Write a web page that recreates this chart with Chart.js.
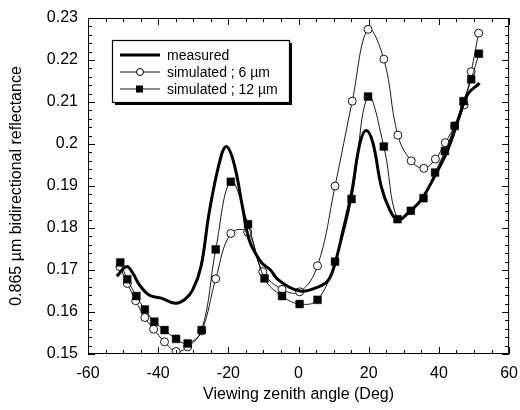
<!DOCTYPE html>
<html><head><meta charset="utf-8">
<script src="https://cdn.jsdelivr.net/npm/chart.js@4/dist/chart.umd.min.js"></script>
<style>html,body{margin:0;padding:0;background:#fff}canvas{display:block}</style>
</head><body>
<canvas id="c" width="520" height="410"></canvas>
<script>
// ---- data ----
const measuredAngle = [-51.8,-49.0,-47.2,-45.3,-42.5,-39.1,-35.1,-32.5,-30.2,-27.8,-25.5,-22.6,-20.6,-18.4,-16.0,-14.2,-12.3,-10.4,-8.0,-5.7,0.5,5.7,8.5,10.4,12.7,15.1,17.5,19.3,21.2,23.6,26.0,28.3,31.1,34.9,38.7,42.5,45.8,48.1,51.6];
const measuredRefl = [0.1685,0.1708,0.1692,0.1664,0.1640,0.1633,0.1621,0.1629,0.1652,0.1708,0.1835,0.1954,0.1994,0.1954,0.1851,0.1775,0.1740,0.1716,0.1700,0.1676,0.1650,0.1660,0.1676,0.1716,0.1795,0.1883,0.2002,0.2032,0.2002,0.1898,0.1843,0.1819,0.1835,0.1867,0.1922,0.1986,0.2065,0.2117,0.2145];

const sim6Angle = [-50.9,-48.8,-46.4,-43.8,-41.3,-38.2,-34.9,-31.6,-27.6,-23.6,-19.3,-14.5,-10.2,-4.7,0.3,5.4,10.4,15.3,19.8,24.3,28.3,32.1,35.7,39.0,41.8,44.5,47.2,49.2,51.3];
const sim6Refl  = [0.1708,0.1668,0.1627,0.1587,0.1559,0.1529,0.1506,0.1517,0.1555,0.1679,0.1787,0.1790,0.1696,0.1654,0.1648,0.1710,0.1900,0.2102,0.2273,0.2202,0.2021,0.1960,0.1942,0.1964,0.2003,0.2043,0.2093,0.2172,0.2264];

const sim12Angle = [-50.8,-48.8,-46.2,-43.8,-41.1,-38.2,-34.9,-31.6,-27.6,-23.6,-19.3,-14.4,-9.7,-4.7,0.3,5.4,10.4,15.1,19.8,24.3,28.2,32.0,35.6,38.9,41.7,44.5,47.0,49.2,51.4];
const sim12Refl  = [0.1718,0.1678,0.1638,0.1606,0.1577,0.1557,0.1536,0.1525,0.1557,0.1749,0.1910,0.1809,0.1680,0.1638,0.1619,0.1629,0.1720,0.1869,0.2113,0.1994,0.1821,0.1841,0.1871,0.1932,0.1983,0.2043,0.2102,0.2154,0.2215];

const xTickLabels = [-60,-40,-20,0,20,40,60];
const yTickLabels = [0.15,0.16,0.17,0.18,0.19,0.20,0.21,0.22,0.23];
const seriesNames = ['measured','simulated ; 6 \u00b5m','simulated ; 12 \u00b5m'];
const xMinorStep = 5, yMinorStep = 0.002;

const FONT = '"Liberation Sans", Arial, Helvetica, sans-serif';
const pts = (xs, ys) => xs.map((v,i)=>({x:v,y:ys[i]}));

const frameTicks = {
  id:'frameTicks',
  afterDatasetsDraw(chart){
    const {ctx, chartArea:a, scales:{x,y}} = chart;
    ctx.save();
    ctx.strokeStyle='#000'; ctx.lineWidth=1;
    ctx.strokeRect(a.left+0.5, a.top+0.5, a.right-a.left-1, a.bottom-a.top-1);
    ctx.beginPath();
    const xmin = xTickLabels[0], xmax = xTickLabels[xTickLabels.length-1];
    const nx = Math.round((xmax-xmin)/xMinorStep);
    for (let i=0;i<=nx;i++){
      const v = xmin + i*xMinorStep;
      const px = Math.round(x.getPixelForValue(v))+0.5;
      const L = (i%4===0)?7:4;
      ctx.moveTo(px,a.bottom); ctx.lineTo(px,a.bottom-L);
      ctx.moveTo(px,a.top); ctx.lineTo(px,a.top+L);
    }
    const ymin = yTickLabels[0], ymax = yTickLabels[yTickLabels.length-1];
    const ny = Math.round((ymax-ymin)/yMinorStep);
    for (let i=0;i<=ny;i++){
      const v = ymin + i*yMinorStep;
      const py = Math.round(y.getPixelForValue(v))+0.5;
      const L = (i%5===0)?7:4;
      ctx.moveTo(a.left,py); ctx.lineTo(a.left+L,py);
      ctx.moveTo(a.right,py); ctx.lineTo(a.right-L,py);
    }
    ctx.stroke();
    ctx.restore();
  }
};

const boxLegend = {
  id:'boxLegend',
  afterDraw(chart){
    const ctx = chart.ctx;
    const bx=112, by=40, bw=177, bh=62;
    ctx.save();
    ctx.fillStyle='#000';
    ctx.fillRect(bx+3, by+3, bw, bh);
    ctx.fillStyle='#fff';
    ctx.fillRect(bx, by, bw, bh);
    ctx.strokeStyle='#000'; ctx.lineWidth=1.2;
    ctx.strokeRect(bx+0.5, by+0.5, bw, bh);
    const rows=[55,72,89];
    ctx.font = '14px '+FONT;
    ctx.textBaseline='middle';
    chart.data.datasets.forEach((ds,i)=>{
      const yy = rows[i];
      ctx.strokeStyle='#000';
      ctx.lineWidth = ds.borderWidth;
      ctx.beginPath(); ctx.moveTo(120,yy); ctx.lineTo(160,yy); ctx.stroke();
      if (ds.pointRadius>0){
        ctx.lineWidth=1;
        if (ds.pointStyle==='rect'){
          ctx.fillStyle='#000'; ctx.fillRect(136,yy-3.5,7,7);
        } else {
          ctx.fillStyle='#fff'; ctx.beginPath(); ctx.arc(140,yy,3.5,0,Math.PI*2); ctx.fill(); ctx.stroke();
        }
      }
      ctx.fillStyle='#000';
      ctx.fillText(seriesNames[i], 167, yy+1);
    });
    ctx.restore();
  }
};

new Chart(document.getElementById('c'), {
  type:'scatter',
  data:{
    datasets:[
      {label:seriesNames[0], data:pts(measuredAngle,measuredRefl), showLine:true, borderColor:'#000', borderWidth:3, pointRadius:0, tension:0.4, order:1},
      {label:seriesNames[1], data:pts(sim6Angle,sim6Refl), showLine:true, borderColor:'#000', borderWidth:0.9, pointRadius:4, pointStyle:'circle', pointBackgroundColor:'#fff', pointBorderColor:'#000', pointBorderWidth:0.9, tension:0.4, order:3},
      {label:seriesNames[2], data:pts(sim12Angle,sim12Refl), showLine:true, borderColor:'#000', borderWidth:0.9, pointRadius:5.5, pointStyle:'rect', pointBackgroundColor:'#000', pointBorderColor:'#000', pointBorderWidth:0.5, tension:0.4, order:2}
    ]
  },
  options:{
    responsive:false, animation:false, devicePixelRatio:1,
    layout:{padding:{left:0,right:0,top:18,bottom:0}},
    plugins:{legend:{display:false}, tooltip:{enabled:false}},
    scales:{
      x:{type:'linear', min:-60, max:60,
         afterBuildTicks:s=>{s.ticks = xTickLabels.map(v=>({value:v}));},
         afterFit:s=>{s.height=56;},
         grid:{display:false}, border:{display:false},
         ticks:{color:'#000', font:{family:FONT,size:16}, padding:2, maxRotation:0, callback:v=>String(v)},
         title:{display:true, text:'Viewing zenith angle (Deg)', color:'#000', font:{family:FONT,size:16}, padding:{top:0,bottom:6}}
      },
      y:{type:'linear', min:0.15, max:0.23,
         afterBuildTicks:s=>{s.ticks = yTickLabels.map(v=>({value:v}));},
         afterFit:s=>{s.width=88;},
         grid:{display:false}, border:{display:false},
         ticks:{color:'#000', font:{family:FONT,size:16}, padding:2, callback:v=>String(Number(v.toFixed(2)))},
         title:{display:true, text:'0.865 \u00b5m bidirectional reflectance', color:'#000', font:{family:FONT,size:16}, padding:{top:7,bottom:0}}
      }
    }
  },
  plugins:[frameTicks, boxLegend]
});
</script>
</body></html>
